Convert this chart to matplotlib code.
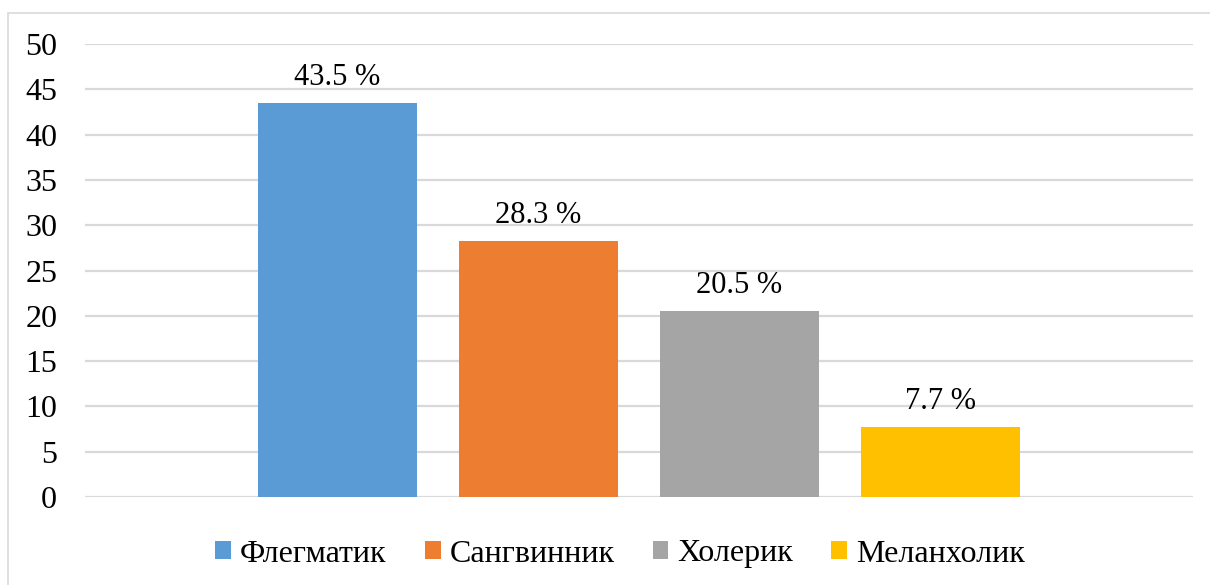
import matplotlib.pyplot as plt
from matplotlib.patches import Rectangle, Patch

plt.rcParams['font.family'] = ['Liberation Serif', 'DejaVu Serif']

# data
types = ["Флегматик", "Сангвинник", "Холерик", "Меланхолик"]
percent = [43.5, 28.3, 20.5, 7.7]
labels = ["43.5 %", "28.3 %", "20.5 %", "7.7 %"]
colors = ["#5B9BD5", "#ED7D31", "#A5A5A5", "#FFC000"]
yticks = [0, 5, 10, 15, 20, 25, 30, 35, 40, 45, 50]

fig = plt.figure(figsize=(12.1, 5.85), dpi=100)

# chart border (only left and top visible)
fig.patches.append(Rectangle((8 / 1210, -0.05), 1.2, 0.05 + (585 - 13) / 585,
                             transform=fig.transFigure, fill=False,
                             edgecolor="#D9D9D9", linewidth=1.2))

ax = fig.add_axes([85 / 1210, (585 - 497) / 585, 1108 / 1210, 453 / 585])
ax.set_xlim(-0.5, 0.5)
ax.set_ylim(0, 50)

step = 201 / 1108
width = 159 / 1108
for i, (name, val, lab, col) in enumerate(zip(types, percent, labels, colors)):
    x = (i - 1.5) * step
    ax.bar(x, val, width=width, color=col, zorder=3)
    ax.annotate(lab, (x, val), xytext=(0, 13), textcoords="offset points",
                ha="center", va="baseline", fontsize=22)

ax.set_yticks(yticks)
ax.set_yticklabels([str(t) for t in yticks], fontsize=23)
ax.tick_params(axis="y", length=0, pad=20)
ax.set_xticks([])
ax.grid(axis="y", color="#D9D9D9", linewidth=1.6, zorder=0)
for s in ax.spines.values():
    s.set_visible(False)

handles = [Patch(facecolor=c, edgecolor="none") for c in colors]
fig.legend(handles, types, loc="center", bbox_to_anchor=(620 / 1210, (585 - 554) / 585),
           ncol=4, frameon=False, fontsize=23, handlelength=0.5, handleheight=0.5,
           handletextpad=0.28, columnspacing=1.19, borderpad=0, borderaxespad=0)

fig.savefig("out.png", dpi=100)
